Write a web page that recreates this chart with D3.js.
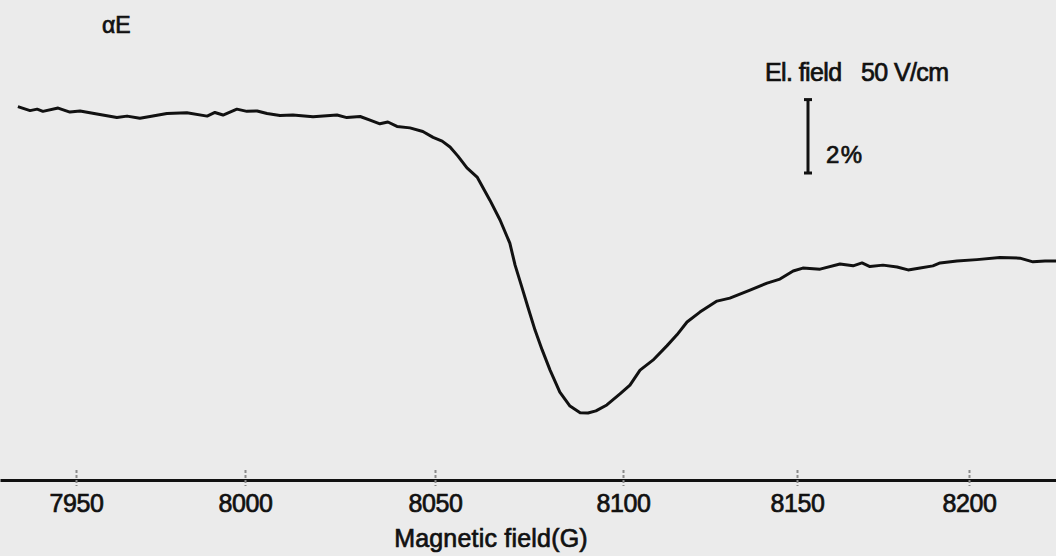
<!DOCTYPE html>
<html>
<head>
<meta charset="utf-8">
<script src="https://cdn.jsdelivr.net/npm/d3@7"></script>
<style>
	html, body { margin: 0; padding: 0; background: #ebebeb; }
	svg { display: block; }
	text { font-family: "Liberation Sans", Arial, sans-serif; fill: #111; }
</style>
</head>
<body>
<div id="chart"></div>
<script>

// magnetic field (G) of the trace points
var field = [
	7932.8, 7936.4, 7938.5, 7940.2, 7944.7, 7948.2, 7951.2, 7956.2, 7962.1, 7965.1,
	7968.9, 7971.9, 7976.9, 7982.8, 7988.8, 7991.1, 7993.5, 7997.6, 8000.5, 8003.2,
	8005.8, 8009.2, 8012.6, 8017.9, 8024.2, 8026.8, 8030.3, 8032.9, 8035.5, 8037.6,
	8040.0, 8043.4, 8046.8, 8049.5, 8051.9, 8054.0, 8056.1, 8058.5, 8061.2, 8064.6,
	8067.3, 8069.9, 8071.3, 8073.1, 8074.7, 8076.6, 8078.5, 8080.6, 8083.2, 8085.9,
	8088.6, 8090.7, 8092.8, 8095.7, 8099.2, 8102.0, 8104.9, 8108.6, 8112.6, 8115.5,
	8118.4, 8122.1, 8127.0, 8130.7, 8136.5, 8141.4, 8145.1, 8148.9, 8151.7, 8156.7,
	8162.5, 8166.3, 8168.9, 8171.2, 8175.0, 8179.1, 8182.3, 8185.8, 8189.5, 8191.6,
	8196.5, 8202.3, 8209.0, 8214.8, 8218.6, 8222.1, 8225.3
];

// signal alpha*E (%, arbitrary zero)
var signal = [
	8.54, 8.43, 8.47, 8.41, 8.50, 8.39, 8.42, 8.34, 8.24, 8.28,
	8.22, 8.27, 8.35, 8.37, 8.28, 8.38, 8.31, 8.47, 8.41, 8.42,
	8.35, 8.30, 8.31, 8.26, 8.31, 8.24, 8.27, 8.17, 8.07, 8.12,
	8.00, 7.96, 7.86, 7.70, 7.60, 7.44, 7.19, 6.87, 6.62, 5.99,
	5.45, 4.82, 4.22, 3.62, 3.08, 2.45, 1.91, 1.36, 0.76, 0.38,
	0.20, 0.19, 0.25, 0.41, 0.71, 0.95, 1.36, 1.63, 2.02, 2.32,
	2.67, 2.94, 3.24, 3.32, 3.54, 3.73, 3.84, 4.06, 4.14, 4.11,
	4.25, 4.20, 4.28, 4.18, 4.22, 4.17, 4.09, 4.14, 4.20, 4.28,
	4.33, 4.37, 4.43, 4.41, 4.31, 4.33, 4.33
];

// x axis ticks
var fieldTicks = [7950, 8000, 8050, 8100, 8150, 8200];

// scale bar: 2 % step
var barBase = 6.73;
var barSize = 2;

var width = 1056,
	height = 556,
	axisY = 480;

var svg = d3.select("#chart").append("svg")
	.attr("width", width)
	.attr("height", height);

// hand drawn axis: tick spacing is not quite even, so map tick by tick
var x = d3.scaleLinear()
	.domain([7927.5].concat(fieldTicks, [8225.3]))
	.range([0, 76, 245, 435, 623, 797, 969, 1056]);

var y = d3.scaleLinear()
	.domain([0, 10])
	.range([420, 53]);

// x axis
var xAxis = d3.axisBottom(x)
	.tickValues(fieldTicks)
	.tickFormat(d3.format("d"))
	.tickSizeOuter(0)
	.tickSizeInner(7);

var gx = svg.append("g")
	.attr("transform", "translate(0," + axisY + ")")
	.call(xAxis);

gx.select(".domain")
	.attr("stroke", "#111")
	.attr("stroke-width", 3);
gx.selectAll(".tick line")
	.attr("y1", -10)
	.attr("y2", 6)
	.attr("stroke", "#8a8a8a")
	.attr("stroke-width", 2)
	.attr("stroke-dasharray", "3,2");
gx.selectAll(".tick text")
	.attr("dy", null)
	.attr("y", 32)
	.attr("font-size", 25)
	.attr("letter-spacing", -0.4)
	.attr("font-family", "Liberation Sans, Arial, sans-serif")
	.attr("fill", "#111")
	.attr("stroke", "#111")
	.attr("stroke-width", 0.7);

svg.append("text")
	.attr("x", 491)
	.attr("y", 547)
	.attr("text-anchor", "middle")
	.attr("font-size", 25)
	.attr("letter-spacing", 0.2)
	.attr("stroke", "#111")
	.attr("stroke-width", 0.7)
	.text("Magnetic field(G)");

// trace
var line = d3.line()
	.x(function(d, i) { return x(field[i]); })
	.y(function(d) { return y(d); })
	.curve(d3.curveLinear);

svg.append("path")
	.datum(signal)
	.attr("fill", "none")
	.attr("stroke", "#111")
	.attr("stroke-width", 3)
	.attr("stroke-linejoin", "round")
	.attr("d", line);

// label of the ordinate
svg.append("text")
	.attr("x", 102)
	.attr("y", 33)
	.attr("font-size", 23)
	.attr("stroke", "#111")
	.attr("stroke-width", 0.7)
	.text("αE");

// electric field note
var note = svg.append("text")
	.attr("y", 81)
	.attr("font-size", 25)
	.attr("letter-spacing", -0.6)
	.attr("stroke", "#111")
	.attr("stroke-width", 0.7);
note.append("tspan").attr("x", 765).text("El. field");
note.append("tspan").attr("x", 861).text("50 V/cm");

// scale bar
var barX = 808;
var bar = svg.append("g")
	.attr("stroke", "#111")
	.attr("stroke-width", 3);
bar.append("line")
	.attr("x1", barX).attr("x2", barX)
	.attr("y1", y(barBase)).attr("y2", y(barBase + barSize));
[barBase, barBase + barSize].forEach(function(v) {
	bar.append("line")
		.attr("x1", barX - 4).attr("x2", barX + 4)
		.attr("y1", y(v)).attr("y2", y(v));
});

svg.append("text")
	.attr("x", 826)
	.attr("y", 163)
	.attr("font-size", 24)
	.attr("letter-spacing", 1.5)
	.attr("stroke", "#111")
	.attr("stroke-width", 0.7)
	.text(barSize + "%");

</script>
</body>
</html>
